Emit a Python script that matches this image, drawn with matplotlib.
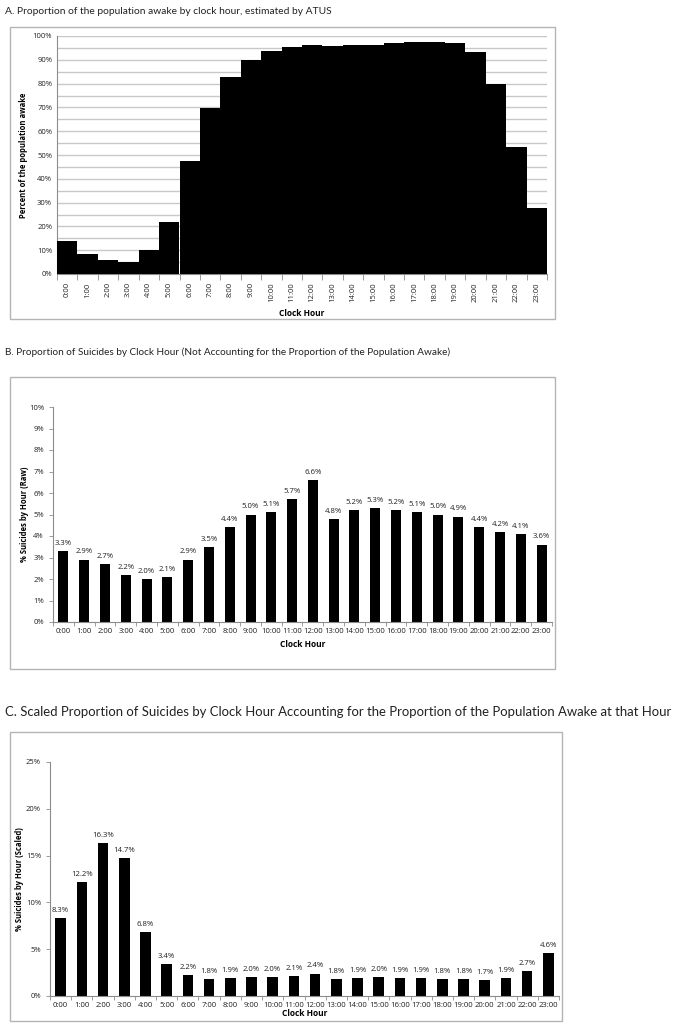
import matplotlib.pyplot as plt
from matplotlib.patches import Rectangle
import numpy as np

plt.rcParams['font.family'] = ['Open Sans', 'DejaVu Sans']

hours = [f"{h}:00" for h in range(24)]

# A: percent of population awake (ATUS)
awake = [14.0, 8.4, 5.9, 5.2, 10.2, 21.8, 47.3, 69.8, 82.7, 89.8, 93.7, 95.5,
         96.4, 95.8, 96.1, 96.4, 96.9, 97.3, 97.3, 96.9, 93.1, 79.7, 53.3, 27.7]
# B: raw proportion of suicides
raw = [3.3, 2.9, 2.7, 2.2, 2.0, 2.1, 2.9, 3.5, 4.4, 5.0, 5.1, 5.7,
       6.6, 4.8, 5.2, 5.3, 5.2, 5.1, 5.0, 4.9, 4.4, 4.2, 4.1, 3.6]
# C: scaled proportion of suicides
scaled = [8.3, 12.2, 16.3, 14.7, 6.8, 3.4, 2.2, 1.8, 1.9, 2.0, 2.0, 2.1,
          2.4, 1.8, 1.9, 2.0, 1.9, 1.9, 1.8, 1.8, 1.7, 1.9, 2.7, 4.6]

titles = ["A. Proportion of the population awake by clock hour, estimated by ATUS",
          "B. Proportion of Suicides by Clock Hour (Not Accounting for the Proportion of the Population Awake)",
          "C. Scaled Proportion of Suicides by Clock Hour Accounting for the Proportion of the Population Awake at that Hour"]

W, H = 676, 1025
fig = plt.figure(figsize=(W / 100, H / 100), dpi=100)
axis_col = '#8c8c8c'
txt_col = '#222222'


def px(x0, y0, x1, y1):
    # pixel box -> figure fraction [left, bottom, width, height]
    return [x0 / W, 1 - y1 / H, (x1 - x0) / W, (y1 - y0) / H]


def frame(x0, y0, x1, y1):
    fig.patches.append(Rectangle((x0 / W, 1 - y1 / H), (x1 - x0) / W, (y1 - y0) / H,
                                 transform=fig.transFigure, fill=False,
                                 edgecolor='#b4b4b4', linewidth=1.0))


def title_text(s, y, width_px):
    # fit the title to the width it takes in the original
    t = fig.text(5 / W, 1 - y / H, s, fontsize=10, va='center', ha='left',
                 color=txt_col, family=['Lato', 'DejaVu Sans'])
    r = fig.canvas.get_renderer()
    w = t.get_window_extent(renderer=r).width
    t.set_fontsize(10 * width_px / w)
    return t


def style_axes(ax):
    for s in ['top', 'right']:
        ax.spines[s].set_visible(False)
    for s in ['left', 'bottom']:
        ax.spines[s].set_color(axis_col)
        ax.spines[s].set_linewidth(0.8)
    ax.tick_params(colors=axis_col, labelcolor=txt_col, length=3, width=0.6)


def ylabel_at(ax, text, x_px, left_px, right_px):
    ax.set_ylabel(text, fontsize=5.5, fontweight='bold')
    ax.yaxis.set_label_coords((x_px - left_px) / (right_px - left_px), 0.5)


x = np.arange(24)

# ---- Panel A ----
title_text(titles[0], 11, 330)
frame(10, 27, 555, 319)
axA = fig.add_axes(px(57, 36, 547, 274))
axA.bar(x, awake, width=1.0, color='black', zorder=3)
axA.set_xlim(-0.5, 23.5)
axA.set_ylim(0, 100)
for g in range(5, 101, 5):
    axA.axhline(g, color='#c8c8c8', linewidth=1.0, zorder=1)
axA.set_yticks(range(0, 101, 10))
axA.set_yticklabels([f"{v}%" for v in range(0, 101, 10)], fontsize=5.5)
axA.set_xticks(x)
axA.set_xticklabels(hours, rotation=90, fontsize=5.5)
axA.set_xticks(np.arange(-0.5, 24, 1), minor=True)
style_axes(axA)
axA.tick_params(axis='x', which='major', length=0, pad=6)
axA.tick_params(axis='x', which='minor', length=4, color=axis_col)
axA.tick_params(axis='y', length=0)
axA.set_xlabel('Clock Hour', fontsize=6, fontweight='bold', labelpad=5)
ylabel_at(axA, 'Percent of the population awake', 28, 57, 547)

# ---- Panel B ----
title_text(titles[1], 352, 448)
frame(10, 377, 555, 669)
axB = fig.add_axes(px(53, 407, 552, 622))
barsB = axB.bar(x, raw, width=0.48, color='black')
axB.set_xlim(-0.5, 23.5)
axB.set_ylim(0, 10)
axB.set_yticks(range(0, 11))
axB.set_yticklabels([f"{v}%" for v in range(0, 11)], fontsize=5.5)
axB.set_xticks(x)
axB.set_xticklabels(hours, fontsize=5.6)
axB.set_xticks(np.arange(-0.5, 24, 1), minor=True)
style_axes(axB)
axB.tick_params(axis='x', which='major', length=0, pad=4)
axB.tick_params(axis='x', which='minor', length=3, color=axis_col)
axB.bar_label(barsB, labels=[f"{v:.1f}%" for v in raw], padding=3, fontsize=5.6, color=txt_col)
axB.set_xlabel('Clock Hour', fontsize=6, fontweight='bold', labelpad=4)
ylabel_at(axB, '% Suicides by Hour (Raw)', 29, 53, 552)

# ---- Panel C ----
title_text(titles[2], 712, 668)
frame(10, 732, 562, 1021)
axC = fig.add_axes(px(50, 762, 559, 996))
barsC = axC.bar(x, scaled, width=0.5, color='black')
axC.set_xlim(-0.5, 23.5)
axC.set_ylim(0, 25)
axC.set_yticks(range(0, 26, 5))
axC.set_yticklabels([f"{v}%" for v in range(0, 26, 5)], fontsize=5.5)
axC.set_xticks(x)
axC.set_xticklabels(hours, fontsize=5.6)
axC.set_xticks(np.arange(-0.5, 24, 1), minor=True)
style_axes(axC)
axC.tick_params(axis='x', which='major', length=0, pad=4)
axC.tick_params(axis='x', which='minor', length=3, color=axis_col)
axC.bar_label(barsC, labels=[f"{v:.1f}%" for v in scaled], padding=3, fontsize=5.6, color=txt_col)
axC.set_xlabel('Clock Hour', fontsize=6, fontweight='bold', labelpad=0)
ylabel_at(axC, '% Suicides by Hour (Scaled)', 24, 50, 559)

fig.savefig('out.png', dpi=100)
